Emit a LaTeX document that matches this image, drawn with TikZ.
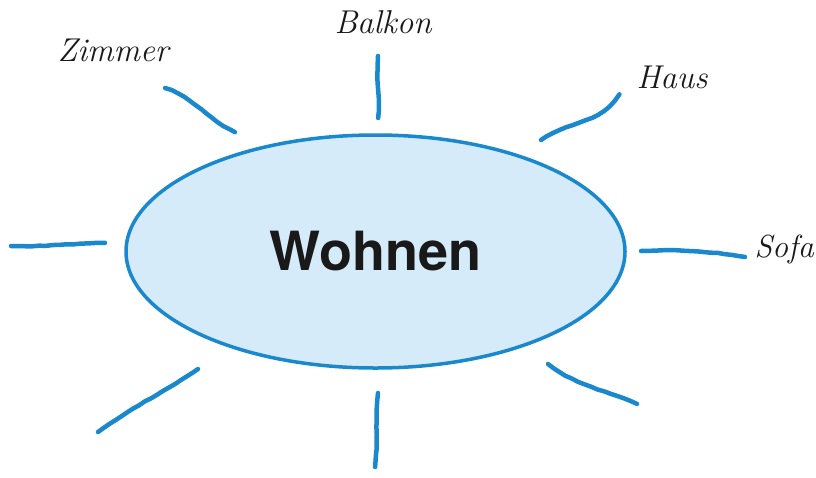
\documentclass[tikz,border=0pt]{standalone}
\usepackage{fontspec}
\setmainfont{Latin Modern Roman}
\setsansfont{TeX Gyre Heros}
\usetikzlibrary{shapes.geometric,decorations.pathmorphing}
\definecolor{rayblue}{HTML}{1A88CC}
\definecolor{fillblue}{HTML}{D6EBF9}
\tikzset{
  ray/.style={draw=rayblue, line width=4.5pt, line cap=round,
    decorate, decoration={random steps, segment length=7pt, amplitude=0.3pt}},
  hub/.style={ellipse, draw=rayblue, line width=3.5pt, fill=fillblue,
    minimum width=499pt, minimum height=233pt, inner sep=0pt,
    font=\sffamily\bfseries\fontsize{54}{54}\selectfont, text=black!90},
  word/.style={font=\itshape\fontsize{33}{33}\selectfont, text=black!90, inner sep=0pt}
}
\begin{document}
\begin{tikzpicture}[x=1pt, y=-1pt]
\useasboundingbox (0,0) rectangle (816,477);
\node[hub] (c) at (375.5,251.5) {Wohnen};
\node[word] (zimmer) at (113,50) {Zimmer};
\node[word] (balkon) at (383,22) {Balkon};
\node[word] (haus) at (672,77) {Haus};
\node[word, anchor=east, font=\itshape\fontsize{32}{32}\selectfont] (sofa) at (814,249) {Sofa};
% rays
\draw[ray] (165,88) .. controls (195,98) and (205,118) .. (235,132);
\draw[ray] (378,56) .. controls (376,80) and (380,95) .. (378,118);
\draw[ray] (541,140) .. controls (570,120) and (600,125) .. (619,94);
\draw[ray] (641,251) .. controls (680,249) and (715,252) .. (745,257);
\draw[ray] (11,246) .. controls (45,247) and (75,243) .. (105,243);
\draw[ray] (98,432) .. controls (135,405) and (165,392) .. (198,369);
\draw[ray] (378,393) .. controls (375,420) and (378,445) .. (375,467);
\draw[ray] (548,364) .. controls (575,385) and (605,390) .. (637,404);
\end{tikzpicture}
\end{document}
